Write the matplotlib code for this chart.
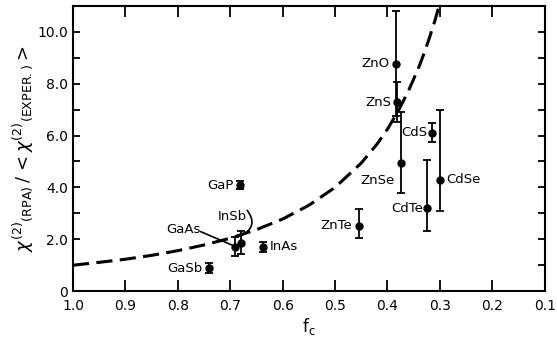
import matplotlib
matplotlib.use("Agg")
import matplotlib.pyplot as plt
from matplotlib.ticker import MultipleLocator, FixedLocator

# dashed curve
curve_fc = [1.0, 0.95, 0.9, 0.85, 0.8, 0.75, 0.7, 0.65, 0.6, 0.55, 0.5, 0.45,
            0.42, 0.4, 0.38, 0.36, 0.34, 0.33, 0.32, 0.31, 0.30, 0.29]
curve_ratio = [1.0, 1.11, 1.23, 1.38, 1.56, 1.78, 2.04, 2.37, 2.78, 3.31, 4.0, 4.94,
               5.67, 6.25, 6.93, 7.72, 8.65, 9.18, 9.77, 10.4, 11.1, 11.9]

# measured points
names = ["GaSb", "GaP", "GaAs", "InSb", "InAs", "ZnTe", "ZnO", "ZnS", "ZnSe", "CdS", "CdTe", "CdSe"]
fc = [0.74, 0.681, 0.69, 0.679, 0.638, 0.454, 0.384, 0.381, 0.374, 0.315, 0.325, 0.30]
ratio = [0.89, 4.08, 1.72, 1.85, 1.71, 2.53, 8.77, 7.28, 4.94, 6.1, 3.2, 4.29]
err_lo = [0.18, 0.15, 0.38, 0.4, 0.2, 0.47, 2.0, 0.75, 1.14, 0.36, 0.9, 1.2]
err_hi = [0.18, 0.15, 0.38, 0.45, 0.2, 0.64, 2.05, 0.8, 1.96, 0.38, 1.87, 2.7]

yticks = [0, 2, 4, 6, 8, 10]
ytick_labels = ["0", "2.0", "4.0", "6.0", "8.0", "10.0"]
xticks = [1.0, 0.9, 0.8, 0.7, 0.6, 0.5, 0.4, 0.3, 0.2, 0.1]

# label placement (offset in pixels from point, alignment)
label_pos = {
    "GaSb": (-7, 0, "right"),
    "GaP": (-7, 0, "right"),
    "GaAs": (-35, 17, "right"),
    "InSb": (6, 27, "right"),
    "InAs": (7, 0, "left"),
    "ZnTe": (-7, 0, "right"),
    "ZnO": (-6, 0, "right"),
    "ZnS": (-6, 0, "right"),
    "ZnSe": (-6, -17, "right"),
    "CdS": (-5, 0, "right"),
    "CdTe": (-4, 0, "right"),
    "CdSe": (6, 0, "left"),
}

fig = plt.figure(figsize=(5.57, 3.47), dpi=100)
ax = fig.add_axes([0.131, 0.161, 0.847, 0.822])

ax.plot(curve_fc, curve_ratio, color="black", lw=2.2, dashes=(5.3, 2.4))

ax.errorbar(fc, ratio, yerr=[err_lo, err_hi], fmt="o", color="black",
            ms=5, capsize=3, elinewidth=1.3, capthick=1.3)

for n, x, y in zip(names, fc, ratio):
    dx, dy, ha = label_pos[n]
    ax.annotate(n, (x, y), xytext=(dx, dy), textcoords="offset pixels",
                ha=ha, va="center", fontsize=9.5)

# connector lines for GaAs and InSb
ax.annotate("", (fc[2], ratio[2]), xytext=(-35, 15), textcoords="offset pixels",
            arrowprops=dict(arrowstyle="-", color="black", lw=1.2, shrinkA=0, shrinkB=2))
ax.annotate("", (fc[3], ratio[3] + 0.3), xytext=(6, 25), textcoords="offset pixels",
            arrowprops=dict(arrowstyle="-", color="black", lw=1.2, shrinkA=0, shrinkB=0,
                            connectionstyle="arc3,rad=-0.6"))

ax.set_xlim(1.0, 0.1)
ax.set_ylim(0, 11)
ax.xaxis.set_major_locator(FixedLocator(xticks))
ax.set_xticklabels([f"{t:.1f}" for t in xticks])
ax.set_yticks(yticks)
ax.set_yticklabels(ytick_labels)
ax.yaxis.set_minor_locator(MultipleLocator(1))

ax.tick_params(direction="in", top=True, right=True, which="both", width=1.3,
               labelsize=10)
ax.tick_params(axis="x", which="major", length=8, pad=6)
ax.tick_params(axis="y", which="major", length=5)
ax.tick_params(axis="y", which="minor", length=5)
for s in ax.spines.values():
    s.set_linewidth(1.5)

ax.set_xlabel(r"$\mathrm{f_c}$", fontsize=12, labelpad=2)
ax.set_ylabel(r"$\chi^{(2)}{}_{\mathrm{(RPA)}}\,/\,<\chi^{(2)}{}_{\mathrm{(EXPER.)}}>$",
              fontsize=13, labelpad=2)

fig.savefig("out.png", dpi=100)
